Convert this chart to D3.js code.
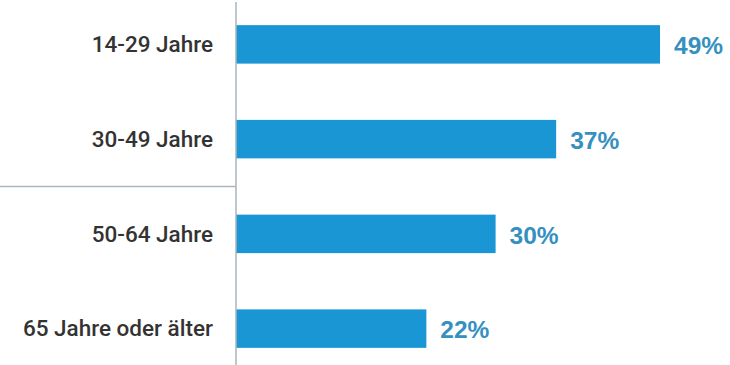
<!DOCTYPE html>
<html>
<head>
<meta charset="utf-8">
<script src="https://cdn.jsdelivr.net/npm/d3@7/dist/d3.min.js"></script>
<style>
  html, body { margin: 0; padding: 0; background: #ffffff; }
  svg { display: block; }
</style>
</head>
<body>
<script>
// Age groups and share of respondents (percent)
const categories = ["14-29 Jahre", "30-49 Jahre", "50-64 Jahre", "65 Jahre oder älter"];
const values = [49, 37, 30, 22];
const valueLabels = ["49%", "37%", "30%", "22%"];

const width = 730, height = 365;
const axisX = 236;

const svg = d3.select("body").append("svg")
  .attr("width", width)
  .attr("height", height);

const x = d3.scaleLinear()
  .domain([0, 49])
  .range([axisX, 660]);

const y = d3.scaleBand()
  .domain(categories)
  .range([-3, 376])
  .paddingInner(0.594)
  .paddingOuter(0.297);

// separator line between the two younger and two older groups
const sepY = (y(categories[1]) + y.bandwidth() + y(categories[2])) / 2;
svg.append("line")
  .attr("x1", 0).attr("x2", axisX)
  .attr("y1", sepY).attr("y2", sepY)
  .attr("stroke", "#a9b8c0")
  .attr("stroke-width", 1.5);

// bars
svg.append("g")
  .selectAll("rect")
  .data(values)
  .join("rect")
  .attr("x", x(0))
  .attr("y", (d, i) => y(categories[i]))
  .attr("width", d => x(d) - x(0))
  .attr("height", y.bandwidth())
  .attr("fill", "#1a96d4");

// vertical axis line
svg.append("line")
  .attr("x1", axisX).attr("x2", axisX)
  .attr("y1", 2).attr("y2", height)
  .attr("stroke", "#a9b4ba")
  .attr("stroke-width", 1.5);

// category labels
svg.append("g")
  .selectAll("text")
  .data(categories)
  .join("text")
  .attr("x", 213)
  .attr("y", d => y(d) + y.bandwidth() / 2 + 7.8)
  .attr("text-anchor", "end")
  .attr("font-family", "Roboto, sans-serif")
  .attr("font-weight", 500)
  .attr("font-size", 22.5)
  .attr("fill", "#333333")
  .text(d => d);

// value labels
svg.append("g")
  .selectAll("text")
  .data(values)
  .join("text")
  .attr("x", d => x(d) + 14)
  .attr("y", (d, i) => y(categories[i]) + y.bandwidth() / 2 + 9.8)
  .attr("font-family", "'Liberation Sans', Arial, sans-serif")
  .attr("font-weight", "bold")
  .attr("font-size", 24.5)
  .attr("fill", "#3590bf")
  .text((d, i) => valueLabels[i]);
</script>
</body>
</html>
